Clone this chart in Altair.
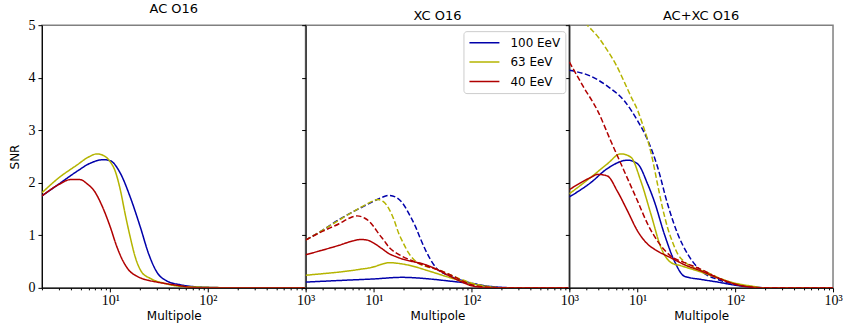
import altair as alt
import pandas as pd

ENERGIES = ["100 EeV", "63 EeV", "40 EeV"]
COLORS = ["#0000aa", "#b4b400", "#b00000"]
PANELS = ["AC O16", "XC O16", "AC+XC O16"]

# ---- AC O16 (solid) ----
AC_L_100 = [2, 3, 4.5, 6.2, 8.5, 10, 12.7, 16, 20.3, 24.7, 30, 38, 52, 66, 100, 200, 1000]
AC_S_100 = [1.75, 1.98, 2.21, 2.37, 2.44, 2.42, 2.18, 1.73, 1.16, 0.65, 0.30, 0.13, 0.06, 0.03, 0.01, 0.0, 0.0]
AC_L_63 = [2, 3, 4.5, 6, 7.3, 8.5, 10, 11.3, 12.7, 14.2, 16, 18, 21, 25.7, 35, 52, 100, 200, 1000]
AC_S_63 = [1.81, 2.10, 2.33, 2.49, 2.55, 2.52, 2.40, 2.21, 1.86, 1.41, 0.97, 0.59, 0.30, 0.18, 0.09, 0.03, 0.01, 0.0, 0.0]
AC_L_40 = [2, 3, 3.9, 4.9, 5.8, 7.0, 8.2, 10, 11.7, 13.7, 16, 18, 20.3, 25, 30, 52, 66, 100, 1000]
AC_S_40 = [1.75, 1.97, 2.06, 2.06, 1.98, 1.82, 1.57, 1.16, 0.78, 0.49, 0.31, 0.24, 0.19, 0.14, 0.11, 0.04, 0.01, 0.0, 0.0]

# ---- XC O16 (solid) ----
XC_L_100 = [2, 4.4, 10, 19.5, 36.6, 58.7, 100, 150, 200, 300, 1000]
XC_S_100 = [0.11, 0.14, 0.17, 0.20, 0.17, 0.13, 0.08, 0.03, 0.01, 0.0, 0.0]
XC_L_63 = [2, 3, 4.4, 7, 10, 12, 14.3, 17, 22.9, 36.6, 58.7, 100, 150, 200, 1000]
XC_S_63 = [0.24, 0.27, 0.30, 0.35, 0.40, 0.45, 0.48, 0.47, 0.43, 0.32, 0.20, 0.08, 0.02, 0.0, 0.0]
XC_L_40 = [2, 3, 4.4, 6, 7.3, 8.5, 10, 12, 14.3, 17, 19.5, 25, 31.3, 42.9, 58.7, 80, 100, 150, 1000]
XC_S_40 = [0.63, 0.72, 0.81, 0.89, 0.92, 0.91, 0.85, 0.75, 0.65, 0.59, 0.55, 0.50, 0.46, 0.36, 0.23, 0.11, 0.04, 0.0, 0.0]

# ---- XC O16 (dashed) ----
XCD_L_100 = [2, 3, 4.4, 6, 8, 10, 12, 14.3, 17, 19.5, 23, 26.7, 30, 33.9, 42.9, 58.7, 80, 100, 150, 200, 1000]
XCD_S_100 = [0.91, 1.10, 1.30, 1.44, 1.56, 1.65, 1.72, 1.76, 1.72, 1.62, 1.40, 1.16, 0.93, 0.71, 0.39, 0.23, 0.14, 0.09, 0.02, 0.0, 0.0]
XCD_L_63 = [2, 3, 4.4, 6, 8, 10, 11, 12.5, 14.3, 16, 18, 20, 22.9, 28.9, 35, 42.9, 60, 100, 150, 200, 1000]
XCD_S_63 = [0.91, 1.10, 1.29, 1.44, 1.57, 1.66, 1.68, 1.64, 1.50, 1.30, 1.03, 0.85, 0.65, 0.46, 0.40, 0.36, 0.25, 0.09, 0.02, 0.0, 0.0]
XCD_L_40 = [2, 3, 4.4, 5.5, 6.7, 8, 8.9, 10, 11.2, 12.7, 14.3, 17, 19.5, 26.7, 35, 42.9, 60, 100, 150, 200, 1000]
XCD_S_40 = [0.91, 1.08, 1.22, 1.32, 1.37, 1.33, 1.27, 1.16, 1.03, 0.90, 0.77, 0.66, 0.60, 0.49, 0.41, 0.36, 0.25, 0.06, 0.01, 0.0, 0.0]

# ---- AC+XC O16 (solid) ----
TOT_L_100 = [2, 3.3, 4.9, 7.9, 10, 12.7, 14.8, 18.8, 23.8, 30.2, 44.8, 66, 100, 150, 200, 1000]
TOT_S_100 = [1.73, 2.00, 2.27, 2.43, 2.36, 1.97, 1.65, 1.02, 0.51, 0.22, 0.16, 0.11, 0.05, 0.01, 0.0, 0.0]
TOT_L_63 = [2, 3.3, 4.9, 6.7, 8.5, 10.8, 13.7, 17.4, 22, 27.8, 41.4, 66, 100, 150, 200, 1000]
TOT_S_63 = [1.79, 2.10, 2.36, 2.55, 2.49, 2.03, 1.40, 0.76, 0.48, 0.42, 0.32, 0.19, 0.09, 0.03, 0.0, 0.0]
TOT_L_40 = [2, 3.3, 3.9, 4.9, 6.2, 7.9, 10, 12.7, 16, 22, 30.2, 44.8, 66, 100, 150, 200, 1000]
TOT_S_40 = [1.87, 2.10, 2.16, 2.13, 1.84, 1.46, 1.08, 0.83, 0.70, 0.57, 0.44, 0.32, 0.19, 0.07, 0.01, 0.0, 0.0]

# ---- AC+XC O16 (dashed) ----
TOTD_L_100 = [2, 3.3, 4.9, 7.3, 10, 12.7, 16, 20.3, 25.8, 32.6, 44.8, 66.3, 100, 150, 200, 1000]
TOTD_S_100 = [4.14, 4.03, 3.84, 3.56, 3.18, 2.81, 2.30, 1.59, 1.02, 0.64, 0.32, 0.16, 0.07, 0.02, 0.0, 0.0]
TOTD_L_63 = [2, 2.5, 3.06, 4, 4.9, 6, 7.3, 8.5, 10, 11.3, 12.7, 14.3, 16, 18, 20.3, 22.9, 25.8, 30, 35.3, 52.3, 77.6, 100, 150, 200, 1000]
TOTD_S_63 = [5.40, 5.20, 5.00, 4.76, 4.52, 4.25, 3.92, 3.65, 3.38, 3.10, 2.81, 2.42, 1.97, 1.52, 1.14, 0.86, 0.64, 0.50, 0.41, 0.29, 0.14, 0.08, 0.02, 0.0, 0.0]
TOTD_L_40 = [2, 2.8, 3.9, 5.3, 7.3, 10, 12.7, 16, 22, 30.2, 44.8, 66, 100, 150, 200, 1000]
TOTD_S_40 = [4.30, 3.82, 3.37, 2.80, 2.22, 1.65, 1.21, 0.89, 0.60, 0.48, 0.35, 0.19, 0.07, 0.01, 0.0, 0.0]

X_TICKS = [2, 3, 4, 5, 6, 7, 8, 9, 10, 20, 30, 40, 50, 60, 70, 80, 90,
           100, 200, 300, 400, 500, 600, 700, 800, 900, 1000]
Y_TICKS = [0, 1, 2, 3, 4, 5]

CURVES = [
    ("AC O16", "solid", AC_L_100, AC_S_100, "100 EeV"),
    ("AC O16", "solid", AC_L_63, AC_S_63, "63 EeV"),
    ("AC O16", "solid", AC_L_40, AC_S_40, "40 EeV"),
    ("XC O16", "solid", XC_L_100, XC_S_100, "100 EeV"),
    ("XC O16", "solid", XC_L_63, XC_S_63, "63 EeV"),
    ("XC O16", "solid", XC_L_40, XC_S_40, "40 EeV"),
    ("XC O16", "dashed", XCD_L_100, XCD_S_100, "100 EeV"),
    ("XC O16", "dashed", XCD_L_63, XCD_S_63, "63 EeV"),
    ("XC O16", "dashed", XCD_L_40, XCD_S_40, "40 EeV"),
    ("AC+XC O16", "solid", TOT_L_100, TOT_S_100, "100 EeV"),
    ("AC+XC O16", "solid", TOT_L_63, TOT_S_63, "63 EeV"),
    ("AC+XC O16", "solid", TOT_L_40, TOT_S_40, "40 EeV"),
    ("AC+XC O16", "dashed", TOTD_L_100, TOTD_S_100, "100 EeV"),
    ("AC+XC O16", "dashed", TOTD_L_63, TOTD_S_63, "63 EeV"),
    ("AC+XC O16", "dashed", TOTD_L_40, TOTD_S_40, "40 EeV"),
]

rows = []
for panel, style, ls, ss, energy in CURVES:
    curve_id = f"{panel}|{style}|{energy}"
    for i, (l, s) in enumerate(zip(ls, ss)):
        rows.append({"panel": panel, "style": style, "energy": energy,
                     "curve": curve_id, "idx": i, "l": l, "snr": s})
df = pd.DataFrame(rows)

MAJOR_TEST = "datum.value == 10 || datum.value == 100 || datum.value == 1000"
LABEL_EXPR = ("datum.value == 10 ? '10\u00b9' : datum.value == 100 ? '10\u00b2' : "
              "datum.value == 1000 ? '10\u00b3' : ''")

W, H = 264, 263

LEGEND = alt.Legend(
    title=None, orient="none", legendX=422, legendY=6,
    strokeColor="#cccccc", fillColor="white", cornerRadius=3, padding=5,
    symbolType="stroke", symbolSize=900, symbolStrokeWidth=1.5,
    labelFont="DejaVu Sans", labelFontSize=12, labelColor="black",
    clipHeight=13, rowPadding=6.5, labelOffset=10,
)


def panel_chart(name, first):
    x_axis = alt.Axis(
        values=X_TICKS, labelExpr=LABEL_EXPR, labelOverlap=False, labelFlush=False,
        tickSize={"condition": {"test": MAJOR_TEST, "value": 4}, "value": 2},
        tickColor="black", domainColor="black", labelColor="black",
        labelFont="Liberation Serif", labelFontSize=14, labelPadding=2,
        title="Multipole", titleFont="DejaVu Sans", titleFontSize=12,
        titleFontWeight="normal", titleColor="black", titlePadding=3, grid=False,
    )
    if first:
        y_axis = alt.Axis(
            values=Y_TICKS, tickSize=4, tickColor="black", domainColor="black",
            labelColor="black", labelFont="Liberation Serif", labelFontSize=14,
            labelPadding=3, title="SNR", titleFont="DejaVu Sans", titleFontSize=12,
            titleFontWeight="normal", titleColor="black", titlePadding=6, grid=False,
        )
    else:
        y_axis = alt.Axis(
            values=Y_TICKS, tickSize=4, tickColor="black", domainColor="black",
            labels=False, title=None, grid=False,
        )

    base = alt.Chart(df).transform_filter(alt.datum.panel == name)
    styles = ["solid"] if name == "AC O16" else ["solid", "dashed"]
    layers = []
    for energy in ENERGIES:
        for style in styles:
            sub = base.transform_filter(
                (alt.datum.energy == energy) & (alt.datum.style == style)
            )
            dash = [1, 0] if style == "solid" else [5.5, 2.5]
            layers.append(
                sub.mark_line(
                    interpolate="monotone", strokeWidth=1.5, clip=True, strokeDash=dash,
                ).encode(
                    x=alt.X("l:Q", scale=alt.Scale(type="log", domain=[2, 1000], nice=False),
                            axis=x_axis),
                    y=alt.Y("snr:Q", scale=alt.Scale(domain=[0, 5], nice=False),
                            axis=y_axis),
                    color=alt.Color("energy:N",
                                    scale=alt.Scale(domain=ENERGIES, range=COLORS),
                                    legend=LEGEND),
                    detail="curve:N",
                    order="idx:Q",
                )
            )
    return alt.layer(*layers).properties(
        width=W, height=H,
        title=alt.Title(name, font="DejaVu Sans", fontSize=13, fontWeight="normal",
                        color="black", offset=2),
    )


chart = alt.hconcat(
    panel_chart("AC O16", True),
    panel_chart("XC O16", False),
    panel_chart("AC+XC O16", False),
    spacing=0, bounds="flush",
).properties(
    padding={"left": 8, "top": 2, "right": 4, "bottom": 2},
).configure_view(
    stroke="#808080", strokeWidth=1.5,
)

chart.save("out.html", embed_options={"renderer": "svg", "actions": False})
